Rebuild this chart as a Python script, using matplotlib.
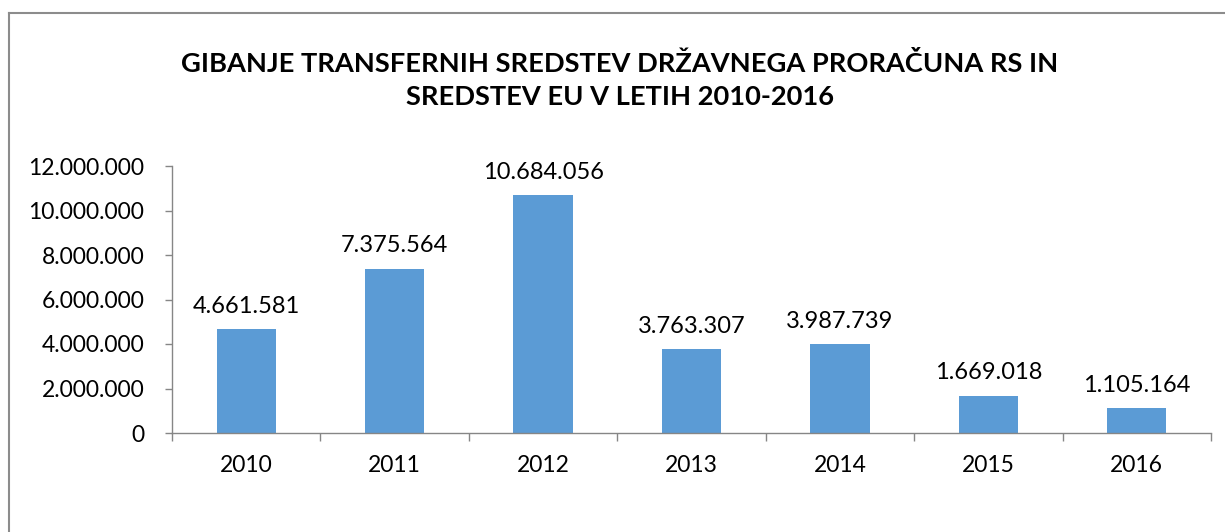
import matplotlib
matplotlib.use("Agg")
import matplotlib.pyplot as plt
from matplotlib.lines import Line2D
from matplotlib.ticker import FixedLocator, FuncFormatter

years = ["2010", "2011", "2012", "2013", "2014", "2015", "2016"]
values = [4661581, 7375564, 10684056, 3763307, 3987739, 1669018, 1105164]
yticks = [0, 2000000, 4000000, 6000000, 8000000, 10000000, 12000000]
title = "GIBANJE TRANSFERNIH SREDSTEV DRŽAVNEGA PRORAČUNA RS IN\nSREDSTEV EU V LETIH 2010-2016"

def fmt(v):
    return f"{int(v):,}".replace(",", ".")

plt.rcParams['font.family'] = ['Lato', 'DejaVu Sans']
W, H = 1225, 532
fig = plt.figure(figsize=(W/100, H/100), dpi=100)
ax = fig.add_axes([172/W, 1-433/H, (1211-172)/W, (433-166)/H])

bar_color = "#5B9BD5"
axis_color = "#868686"
x = list(range(len(years)))
ax.bar(x, values, width=0.4, color=bar_color, zorder=2)
for xi, v in zip(x, values):
    ax.annotate(fmt(v), (xi, v), xytext=(0, 9), textcoords="offset points",
                ha="center", va="bottom", fontsize=17, color="#000000")

ax.set_xlim(-0.5, len(years)-0.5)
ax.set_ylim(0, 12000000)
ax.set_yticks(yticks)
ax.yaxis.set_major_formatter(FuncFormatter(lambda v, p: fmt(v)))
ax.set_xticks(x)
ax.set_xticklabels(years)
ax.xaxis.set_minor_locator(FixedLocator([i-0.5 for i in range(len(years)+1)]))
ax.tick_params(axis="x", which="major", length=0, pad=16, labelsize=16.5)
ax.tick_params(axis="x", which="minor", length=6, width=1, color=axis_color, direction="out")
ax.tick_params(axis="y", which="major", length=5, width=1, color=axis_color, pad=15, labelsize=16.5)

for s in ["top", "right"]:
    ax.spines[s].set_visible(False)
for s in ["left", "bottom"]:
    ax.spines[s].set_color(axis_color)
    ax.spines[s].set_linewidth(1)

fig.text(620/W, 1-80/H, title, ha="center", va="center", fontsize=19.6,
         fontweight="bold", linespacing=1.45)

# chart area border (left and top visible)
fig.add_artist(Line2D([8.5/W, 8.5/W], [0, 1-12.5/H], transform=fig.transFigure,
                      color="#8c8c8c", lw=1.5))
fig.add_artist(Line2D([8.5/W, 1], [1-12.5/H, 1-12.5/H], transform=fig.transFigure,
                      color="#8c8c8c", lw=1.5))

fig.savefig("out.png", dpi=100, facecolor="white")
